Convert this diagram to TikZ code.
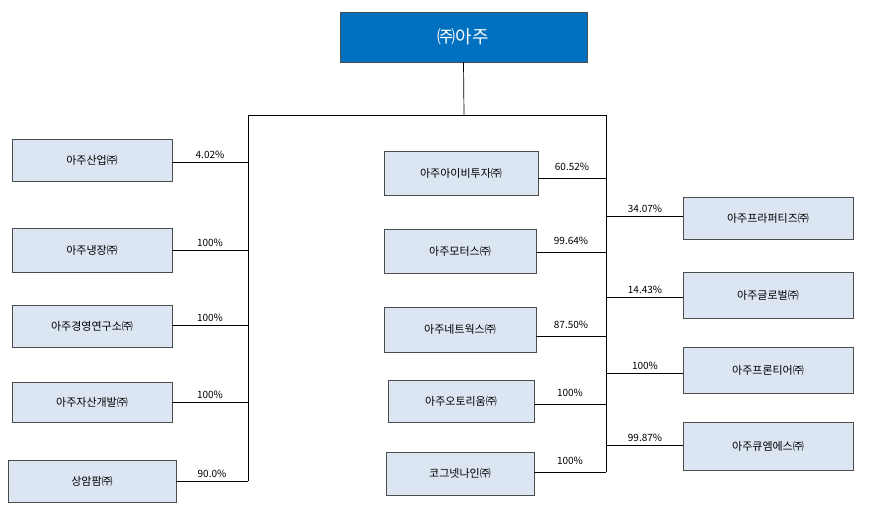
\documentclass[tikz,border=0pt]{standalone}
\usepackage{fontspec}
\setmainfont{Noto Sans CJK KR}
\begin{document}
\begin{tikzpicture}[x=1pt,y=-1pt,
  box/.style={draw=black!70,fill={rgb,255:red,220;green,230;blue,242},inner sep=0pt,font=\fontsize{11}{13}\selectfont},
  pct/.style={font=\fontsize{10}{12}\selectfont,inner sep=1pt},
  ln/.style={draw=black,line width=0.7pt}]
\useasboundingbox (0,0) rectangle (881,513);
\node[draw=black!70,fill={rgb,255:red,0;green,112;blue,192},text=white,minimum width=247pt,minimum height=50pt,inner sep=0pt,font=\fontsize{18}{20}\selectfont] (top) at (463.5,37) {㈜아주};
\coordinate (t1) at (464,115);
\coordinate (L0) at (248,115);
\coordinate (R0) at (606,115);
\coordinate (L1) at (248,481);
\coordinate (R1) at (606,472);
\draw[ln] (top.south) -- (t1);
\draw[ln] (L0) -- (R0);
\draw[ln] (L0) -- (L1);
\draw[ln] (R0) -- (R1);
% left
\foreach \n/\t/\xa/\xb/\ya/\yb/\yl/\p in {
 a/아주산업㈜/12/172/139/181/162/4.02\%,
 b/아주냉장㈜/12/172/228/272/250/100\%,
 c/아주경영연구소㈜/12/172/305/347/325/100\%,
 d/아주자산개발㈜/12/172/382/422/402/100\%,
 e/상암팜㈜/8/176/460/502/481/90.0\%}{
 \node[box,minimum width={\xb-\xa},minimum height={\yb-\ya}] (\n) at ({(\xa+\xb)/2},{(\ya+\yb)/2}) {\t};
 \coordinate (\n j) at (248,\yl);
 \draw[ln] (\n.east |- \n j) -- (\n j);
 \node[pct,anchor=south] at ({(\xb+248)/2},{\yl-2}) {\p};
}
% middle
\foreach \n/\t/\xa/\xb/\ya/\yb/\yl/\p in {
 f/아주아이비투자㈜/384/538/151/195/178/60.52\%,
 g/아주모터스㈜/384/536/229/273/252/99.64\%,
 h/아주네트웍스㈜/384/536/307/352/336/87.50\%,
 i/아주오토리움㈜/388/534/380/422/404/100\%,
 k/코그넷나인㈜/386/534/452/495/472/100\%}{
 \node[box,minimum width={\xb-\xa},minimum height={\yb-\ya}] (\n) at ({(\xa+\xb)/2},{(\ya+\yb)/2}) {\t};
 \coordinate (\n j) at (606,\yl);
 \draw[ln] (\n.east |- \n j) -- (\n j);
 \node[pct,anchor=south] at ({(\xb+606)/2},{\yl-6}) {\p};
}
% right
\foreach \n/\t/\ya/\yb/\yl/\p in {
 m/아주프라퍼티즈㈜/197/239/216/34.07\%,
 o/아주글로벌㈜/272/318/297/14.43\%,
 q/아주프론티어㈜/347/393/373/100\%,
 r/아주큐엠에스㈜/422/470/445/99.87\%}{
 \node[box,minimum width=170pt,minimum height={\yb-\ya}] (\n) at (768,{(\ya+\yb)/2}) {\t};
 \coordinate (\n j) at (606,\yl);
 \draw[ln] (\n j) -- (\n.west |- \n j);
 \node[pct,anchor=south] at (645,{\yl-2}) {\p};
}
\end{tikzpicture}
\end{document}
